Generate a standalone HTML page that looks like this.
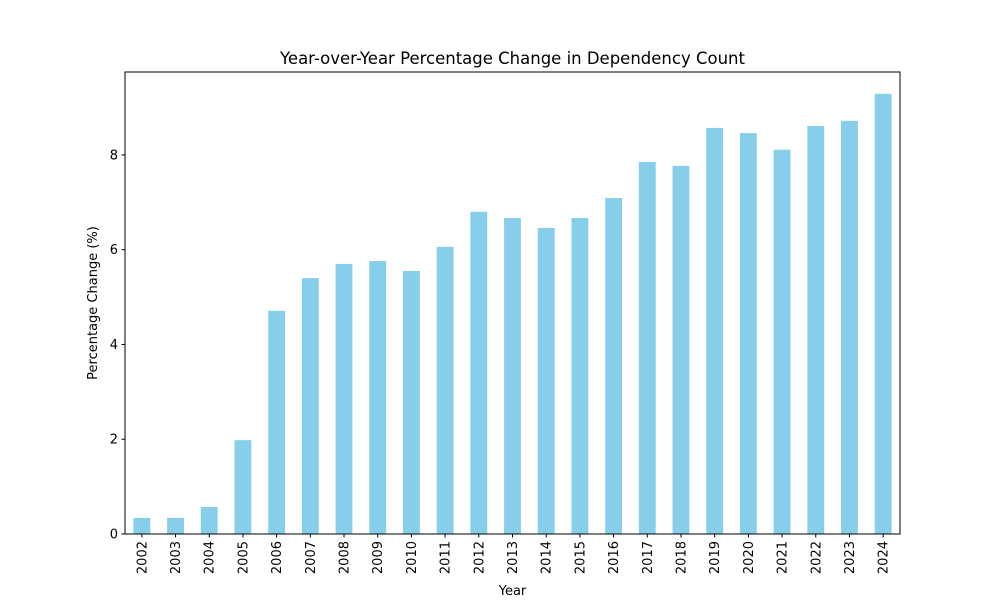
<!DOCTYPE html>
<html><head><meta charset="utf-8"><style>
body{margin:0;background:#fff;}
svg text{font-family:"DejaVu Sans","Liberation Sans",sans-serif;fill:#000;}
</style></head><body>
<svg id="chart" width="1000" height="600" xmlns="http://www.w3.org/2000/svg"></svg>
<script>
const categories = ["2002","2003","2004","2005","2006","2007","2008","2009","2010","2011","2012","2013","2014","2015","2016","2017","2018","2019","2020","2021","2022","2023","2024"];
const values = [0.34,0.34,0.57,1.98,4.71,5.40,5.70,5.76,5.55,6.06,6.80,6.67,6.46,6.67,7.09,7.85,7.77,8.57,8.46,8.11,8.61,8.72,9.29];
const yTicks = [0,2,4,6,8];
const yMax = 9.75;

const L=125,R=900,T=72,B=534;
const svg=document.getElementById('chart');
const NS='http://www.w3.org/2000/svg';
function el(tag,attrs,parent){const e=document.createElementNS(NS,tag);for(const k in attrs)e.setAttribute(k,attrs[k]);(parent||svg).appendChild(e);return e;}
const slot=(R-L)/categories.length;
const x=i=>L+slot*(i+0.5);
const y=v=>B-(v/yMax)*(B-T);

const bars=el('g',{});


values.forEach((v,i)=>{
  const r=el('rect',{x:x(i)-slot*0.25,y:y(v),width:slot*0.5,height:B-y(v),fill:'#87ceeb'},bars);
  
  
});

const frame=el('rect',{x:L,y:T,width:R-L,height:B-T,fill:'none',stroke:'#000','stroke-width':1});



yTicks.forEach(t=>{
  el('line',{x1:L-3.5,x2:L,y1:y(t),y2:y(t),stroke:'#000'});
  const tx=el('text',{x:L-7,y:y(t)+4.5,'text-anchor':'end','font-size':13});
  tx.textContent=t;
  
  
});
categories.forEach((c,i)=>{
  el('line',{x1:x(i),x2:x(i),y1:B,y2:B+3.5,stroke:'#000'});
  const tx=el('text',{x:0,y:0,'text-anchor':'end','font-size':13,transform:`translate(${x(i)+4.5},${B+7}) rotate(-90)`});
  tx.textContent=c;
  
  
});

const title=el('text',{x:(L+R)/2,y:64,'text-anchor':'middle','font-size':16.5});
title.textContent='Year-over-Year Percentage Change in Dependency Count';



const xt=el('text',{x:(L+R)/2,y:595,'text-anchor':'middle','font-size':13});
xt.textContent='Year';



const yt=el('text',{x:0,y:0,'text-anchor':'middle','font-size':13,transform:`translate(97,${(T+B)/2}) rotate(-90)`});
yt.textContent='Percentage Change (%)';


</script>
</body></html>
